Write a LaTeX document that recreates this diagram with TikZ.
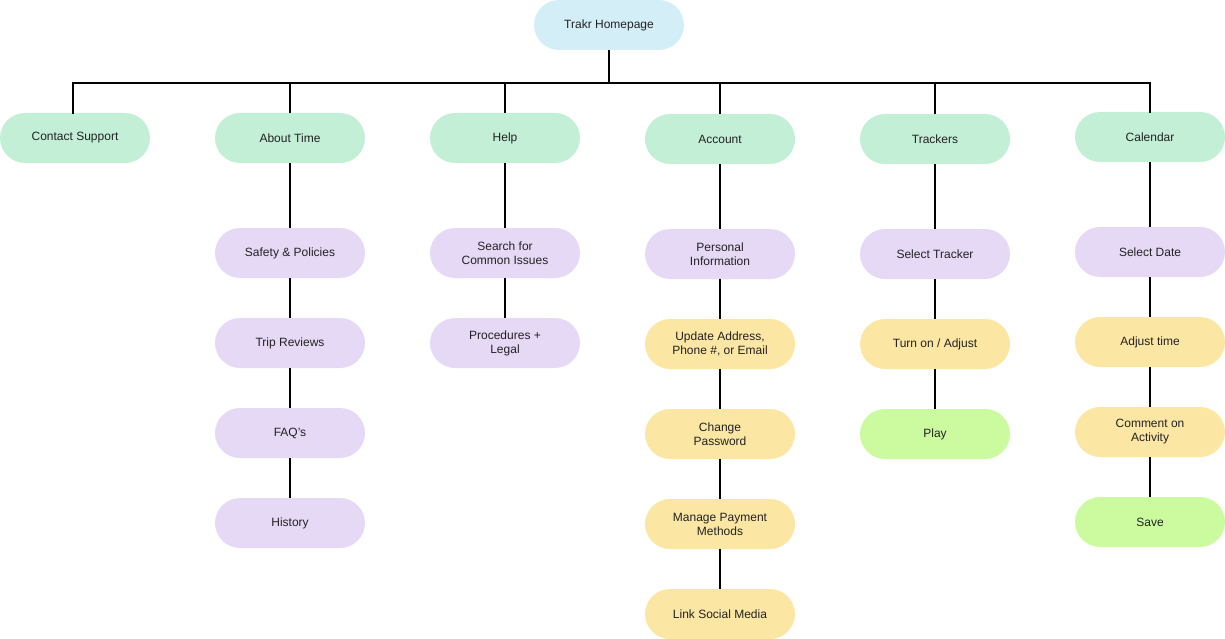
\documentclass[tikz,border=0pt]{standalone}
\usepackage{fontspec}
\setmainfont{Liberation Sans}
\definecolor{cblue}{HTML}{D4EEF8}
\definecolor{cgreen}{HTML}{C2EFD6}
\definecolor{cpurple}{HTML}{E6D9F6}
\definecolor{cyellow}{HTML}{FCE6A4}
\definecolor{clime}{HTML}{CCFB9F}
\definecolor{ctext}{HTML}{222222}
\begin{document}
\begin{tikzpicture}[x=1pt,y=-1pt,
  pill/.style={rectangle,rounded corners=25pt,minimum width=150pt,minimum height=50pt,
    inner sep=0pt,align=center,font=\fontsize{12}{14}\selectfont,text=ctext},
  blue/.style={pill,fill=cblue},
  green/.style={pill,fill=cgreen},
  purple/.style={pill,fill=cpurple},
  yellow/.style={pill,fill=cyellow},
  lime/.style={pill,fill=clime},
  link/.style={draw=black,line width=2pt}]
\useasboundingbox (0,0) rectangle (1225,639);
\node[blue] (home) at (609,25) {Trakr Homepage};
\node[green] (contact) at (75,138) {Contact Support};
\node[green] (about) at (290,138) {About Time};
\node[green] (help) at (505,138) {Help};
\node[green] (account) at (720,139) {Account};
\node[green] (trackers) at (935,139) {Trackers};
\node[green] (calendar) at (1150,137) {Calendar};
\node[purple] (safety) at (290,253) {Safety \& Policies};
\node[purple] (trip) at (290,343) {Trip Reviews};
\node[purple] (faq) at (290,433) {FAQ’s};
\node[purple] (history) at (290,523) {History};
\node[purple] (search) at (505,253) {Search for\\Common Issues};
\node[purple] (proc) at (505,343) {Procedures +\\Legal};
\node[purple] (personal) at (720,254) {Personal\\Information};
\node[yellow] (update) at (720,344) {Update Address,\\Phone \#, or Email};
\node[yellow] (password) at (720,434) {Change\\Password};
\node[yellow] (payment) at (720,524) {Manage Payment\\Methods};
\node[yellow] (social) at (720,614) {Link Social Media};
\node[purple] (seltracker) at (935,254) {Select Tracker};
\node[yellow] (turnon) at (935,344) {Turn on / Adjust};
\node[lime] (play) at (935,434) {Play};
\node[purple] (seldate) at (1150,252) {Select Date};
\node[yellow] (adjust) at (1150,342) {Adjust time};
\node[yellow] (comment) at (1150,432) {Comment on\\Activity};
\node[lime] (save) at (1150,522) {Save};
\coordinate (bar) at (609,83);
\draw[link] (home.south) -- (bar);
\draw[link,line cap=rect] ([xshift=-2pt]contact.north) -- ([xshift=-2pt]contact.north |- bar) -- (calendar.north |- bar) -- (calendar.north);
\foreach \n in {about,help,account,trackers}
  \draw[link] (\n.north) -- (\n.north |- bar);
\draw[link] (about.south) -- (safety.north);
\draw[link] (safety.south) -- (trip.north);
\draw[link] (trip.south) -- (faq.north);
\draw[link] (faq.south) -- (history.north);
\draw[link] (help.south) -- (search.north);
\draw[link] (search.south) -- (proc.north);
\draw[link] (account.south) -- (personal.north);
\draw[link] (personal.south) -- (update.north);
\draw[link] (update.south) -- (password.north);
\draw[link] (password.south) -- (payment.north);
\draw[link] (payment.south) -- (social.north);
\draw[link] (trackers.south) -- (seltracker.north);
\draw[link] (seltracker.south) -- (turnon.north);
\draw[link] (turnon.south) -- (play.north);
\draw[link] (calendar.south) -- (seldate.north);
\draw[link] (seldate.south) -- (adjust.north);
\draw[link] (adjust.south) -- (comment.north);
\draw[link] (comment.south) -- (save.north);
\end{tikzpicture}
\end{document}
